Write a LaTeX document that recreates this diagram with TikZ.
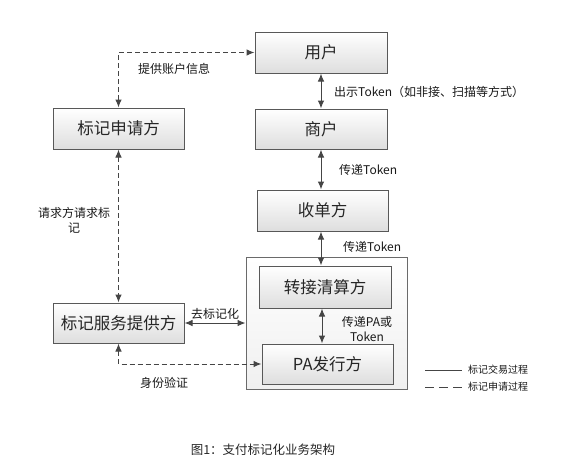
\documentclass[tikz,border=0pt]{standalone}
\usepackage{fontspec}
\newfontfamily\cjk{Noto Sans CJK SC}
\usetikzlibrary{arrows.meta,calc}
\definecolor{ln}{HTML}{454545}
\tikzset{
  box/.style={draw=ln!90, line width=1pt, top color=white, bottom color=black!13,
    font=\cjk\fontsize{16.5}{19}\selectfont, text=black!85, inner sep=0pt},
  outerbox/.style={draw=ln!80, line width=0.9pt, top color=white, bottom color=black!6, inner sep=0pt},
  lbl/.style={font=\cjk\fontsize{12}{15}\selectfont, text=black!90, inner sep=0pt},
  legtxt/.style={font=\cjk\fontsize{10}{12}\selectfont, text=black!90, inner sep=0pt, anchor=west},
  solidarr/.style={draw=ln, line width=1pt, {Latex[length=8pt,width=6.5pt]}-{Latex[length=8pt,width=6.5pt]}},
  dasharr/.style={draw=ln, line width=1pt, dash pattern=on 5pt off 3pt, {Latex[length=8pt,width=6.5pt]}-{Latex[length=8pt,width=6.5pt]}},
}
\begin{document}
\begin{tikzpicture}[x=1pt,y=-1pt]
\path[fill=white] (0,0) rectangle (573,461);
\useasboundingbox (0,0) rectangle (573,461);
% outer box
\node[outerbox, minimum width=161pt, minimum height=132pt] (outer) at (326.5,323) {};
% boxes
\node[box, minimum width=132pt, minimum height=41pt] (user) at (321,52.5) {用户};
\node[box, minimum width=132pt, minimum height=40pt] (merch) at (321,129) {商户};
\node[box, minimum width=131pt, minimum height=41pt] (acq) at (322.5,210.5) {收单方};
\node[box, minimum width=131pt, minimum height=41pt] (req) at (118.5,128.5) {标记申请方};
\node[box, minimum width=131pt, minimum height=40pt] (tsp) at (118.5,323) {标记服务提供方};
\node[box, minimum width=132pt, minimum height=42pt] (sw) at (325,287) {转接清算方};
\node[box, minimum width=131pt, minimum height=40pt] (pa) at (327.5,364) {PA发行方};
% dashed connectors
\draw[dasharr] (req.north) |- (user.west);
\draw[dasharr] (req.south) -- (tsp.north);
\draw[dasharr] (tsp.south) |- (pa.west);
% solid connectors
\draw[solidarr] (tsp.east) -- (outer.west);
\draw[solidarr] (user.south) -- (merch.north);
\draw[solidarr] (merch.south) -- (merch.south |- acq.north);
\draw[solidarr] (acq.south -| merch.south) -- (merch.south |- sw.north);
\draw[solidarr] ([xshift=-3pt]sw.south) -- ([xshift=-3pt]sw.south |- pa.north);
% labels
\node[lbl] (l1) at (174,69) {提供账户信息};
\node[lbl, align=center] (l2) at (74,220) {请求方请求标\\记};
\node[lbl] (l3) at (164,383) {身份验证};
\node[lbl] (l4) at (215,314) {去标记化};
\node[lbl, anchor=west] (l5) at (334,92) {出示Token（如非接、扫描等方式）};
\node[lbl, anchor=west] (l6) at (339,170) {传递Token};
\node[lbl, anchor=west] (l7) at (343,247) {传递Token};
\node[lbl, align=center] (l8) at (367,329) {传递PA或\\Token};
% legend
\coordinate (la1) at (425,370);
\coordinate (la2) at (462,370);
\coordinate (lb1) at (425,387);
\coordinate (lb2) at (462,387);
\draw[draw=ln, line width=0.8pt] (la1) -- (la2);
\draw[draw=ln, line width=0.8pt, dash pattern=on 9pt off 5pt] (lb1) -- (lb2);
\node[legtxt] (lt1) at (468,370) {标记交易过程};
\node[legtxt] (lt2) at (468,387) {标记申请过程};
% caption
\node[font=\cjk\fontsize{12.5}{15}\selectfont, text=black!85, inner sep=0pt] (cap) at (263,450) {图1：支付标记化业务架构};
\end{tikzpicture}
\end{document}
